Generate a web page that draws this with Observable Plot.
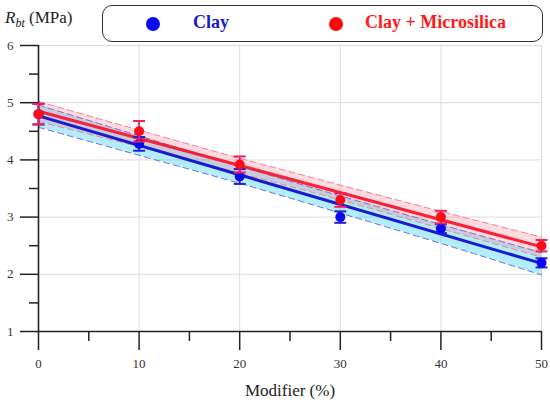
<!DOCTYPE html>
<html>
<head>
<meta charset="utf-8">
<script src="https://cdn.jsdelivr.net/npm/d3@7"></script>
<script src="https://cdn.jsdelivr.net/npm/@observablehq/plot@0.6"></script>
<style>
  html, body { margin: 0; padding: 0; background: #fff; }
  #wrap { position: relative; width: 550px; height: 407px; overflow: hidden; font-family: "Liberation Serif", "DejaVu Serif", serif; }
  #chart { position: absolute; left: 0; top: 0; }
  .ylab { position: absolute; left: 5px; top: 8px; font-family: "Liberation Serif", "DejaVu Serif", serif; font-size: 17px; color: #222; white-space: nowrap; }
  .ylab i sub { font-size: 12px; }
  .xlab { position: absolute; left: 0; width: 580px; top: 381px; text-align: center; font-family: "Liberation Serif", "DejaVu Serif", serif; font-size: 17px; color: #222; }
  .legend { position: absolute; left: 102px; top: 5px; width: 439px; height: 35px; border: 1.3px solid #333; border-radius: 10px; background: #fff; }
  .legend .dot { position: absolute; width: 14px; height: 14px; border-radius: 50%; top: 11px; }
  .legend .txt { position: absolute; top: 6px; font-family: "Liberation Serif", "DejaVu Serif", serif; font-size: 18px; font-weight: bold; white-space: nowrap; }
</style>
</head>
<body>
<div id="wrap">
  <div id="chart"></div>
  <div class="ylab"><i>R<sub>bt</sub></i> (MPa)</div>
  <div class="legend">
    <div class="dot" style="left:43px;background:#0a0aee"></div>
    <div class="txt" style="left:90px;color:#1a1ac8">Clay</div>
    <div class="dot" style="left:226px;background:#ff0a0a"></div>
    <div class="txt" style="left:262px;color:#ff1a1a">Clay + Microsilica</div>
  </div>
  <div class="xlab">Modifier (%)</div>
</div>
<script>
// ---- data ----
const modifier = [0, 10, 20, 30, 40, 50];
const clayMean = [4.8, 4.28, 3.71, 3.0, 2.8, 2.2];
const clayErr  = [0.18, 0.12, 0.13, 0.1, 0.08, 0.08];
const msMean   = [4.8, 4.5, 3.92, 3.3, 3.0, 2.5];
const msErr    = [0.18, 0.18, 0.14, 0.12, 0.11, 0.1];

// fitted lines (end points)
const fitX    = [0, 50];
const clayFit = [4.77, 2.19];
const msFit   = [4.85, 2.48];

// confidence bands at each modifier level
const clayBandLo = [4.57, 4.08, 3.59, 3.07, 2.54, 1.99];
const clayBandHi = [4.96, 4.42, 3.89, 3.37, 2.87, 2.38];
const msBandLo   = [4.67, 4.23, 3.77, 3.30, 2.80, 2.30];
const msBandHi   = [5.02, 4.52, 4.03, 3.56, 3.10, 2.65];

// ticks
const xTicks = [0, 10, 20, 30, 40, 50];
const xMinor = [5, 15, 25, 35, 45];
const yTicks = [1, 2, 3, 4, 5, 6];
const yMinor = [1.5, 2.5, 3.5, 4.5, 5.5];

// ---- tables ----
const pts = modifier.map((x, i) => ({
  x,
  clay: clayMean[i], clayLo: clayMean[i] - clayErr[i], clayHi: clayMean[i] + clayErr[i],
  ms: msMean[i], msLo: msMean[i] - msErr[i], msHi: msMean[i] + msErr[i],
  cbl: clayBandLo[i], cbh: clayBandHi[i], mbl: msBandLo[i], mbh: msBandHi[i]
}));
const fit = fitX.map((x, i) => ({x, clay: clayFit[i], ms: msFit[i]}));

const capSymbol = {
  draw(ctx, size) {
    const r = Math.sqrt(size / Math.PI);
    ctx.moveTo(-r, 0); ctx.lineTo(r, 0);
  }
};

const blue = "#1a1ad0", red = "#f8203a";
const dash = "6,4";
const intFmt = d3.format("d");

const chart = Plot.plot({
  width: 550, height: 407,
  marginTop: 45, marginBottom: 76, marginLeft: 38, marginRight: 9,
  x: {domain: [0, 50]},
  y: {domain: [1, 6]},
  style: {fontFamily: "'Liberation Serif', 'DejaVu Serif', serif", fontSize: "13px", background: "transparent", overflow: "visible"},
  marks: [
    Plot.ruleX(xTicks.slice(1), {stroke: "#dcdcdc", strokeWidth: 1}),
    Plot.ruleY(yTicks.slice(1), {stroke: "#dcdcdc", strokeWidth: 1}),
    // bands
    Plot.areaY(pts, {x: "x", y1: "cbl", y2: "cbh", fill: "#00c8f0", fillOpacity: 0.3, curve: "monotone-x"}),
    Plot.line(pts, {x: "x", y: "cbl", stroke: "#6c6cd8", strokeWidth: 1, strokeDasharray: dash, curve: "monotone-x"}),
    Plot.line(pts, {x: "x", y: "cbh", stroke: "#6c6cd8", strokeWidth: 1, strokeDasharray: dash, curve: "monotone-x"}),
    Plot.areaY(pts, {x: "x", y1: "mbl", y2: "mbh", fill: "#ff5a6e", fillOpacity: 0.22, curve: "monotone-x"}),
    Plot.line(pts, {x: "x", y: "mbl", stroke: "#f08098", strokeWidth: 1, strokeDasharray: dash, curve: "monotone-x"}),
    Plot.line(pts, {x: "x", y: "mbh", stroke: "#f08098", strokeWidth: 1, strokeDasharray: dash, curve: "monotone-x"}),
    // fits
    Plot.line(fit, {x: "x", y: "clay", stroke: blue, strokeWidth: 3}),
    Plot.line(fit, {x: "x", y: "ms", stroke: red, strokeWidth: 3}),
    // axes
    Plot.axisX(xTicks, {tickSize: 19, tickPadding: 8, tickFormat: intFmt, stroke: "#222", strokeWidth: 1.5, fill: "#333", fontSize: 13, label: null}),
    Plot.axisX(xMinor, {tickSize: 10, tickFormat: () => "", stroke: "#222", strokeWidth: 1.5, label: null}),
    Plot.axisY(yTicks, {tickSize: 18, tickPadding: 7, tickFormat: intFmt, stroke: "#222", strokeWidth: 1.5, fill: "#333", fontSize: 13, label: null}),
    Plot.axisY(yMinor, {tickSize: 9, tickFormat: () => "", stroke: "#222", strokeWidth: 1.5, label: null}),
    Plot.ruleX([0], {y1: 1, y2: 6, stroke: "#222", strokeWidth: 1.6}),
    Plot.ruleY([1], {x1: 0, x2: 50, stroke: "#222", strokeWidth: 1.6}),
    // error bars clay
    Plot.ruleX(pts, {x: "x", y1: "clayLo", y2: "clayHi", stroke: "#2020d8", strokeWidth: 1.8}),
    Plot.dot(pts, {x: "x", y: "clayLo", symbol: capSymbol, r: 6, fill: "none", stroke: "#2020d8", strokeWidth: 2}),
    Plot.dot(pts, {x: "x", y: "clayHi", symbol: capSymbol, r: 6, fill: "none", stroke: "#2020d8", strokeWidth: 2}),
    Plot.dot(pts, {x: "x", y: "clay", r: 5, fill: "#0a0aee", stroke: "none"}),
    // error bars microsilica
    Plot.ruleX(pts, {x: "x", y1: "msLo", y2: "msHi", stroke: "#f0205a", strokeWidth: 1.8}),
    Plot.dot(pts, {x: "x", y: "msLo", symbol: capSymbol, r: 6, fill: "none", stroke: "#f0205a", strokeWidth: 2}),
    Plot.dot(pts, {x: "x", y: "msHi", symbol: capSymbol, r: 6, fill: "none", stroke: "#f0205a", strokeWidth: 2}),
    Plot.dot(pts, {x: "x", y: "ms", r: 5, fill: "#ff0a1a", stroke: "none"})
  ]
});
document.getElementById("chart").appendChild(chart);
</script>
</body>
</html>
